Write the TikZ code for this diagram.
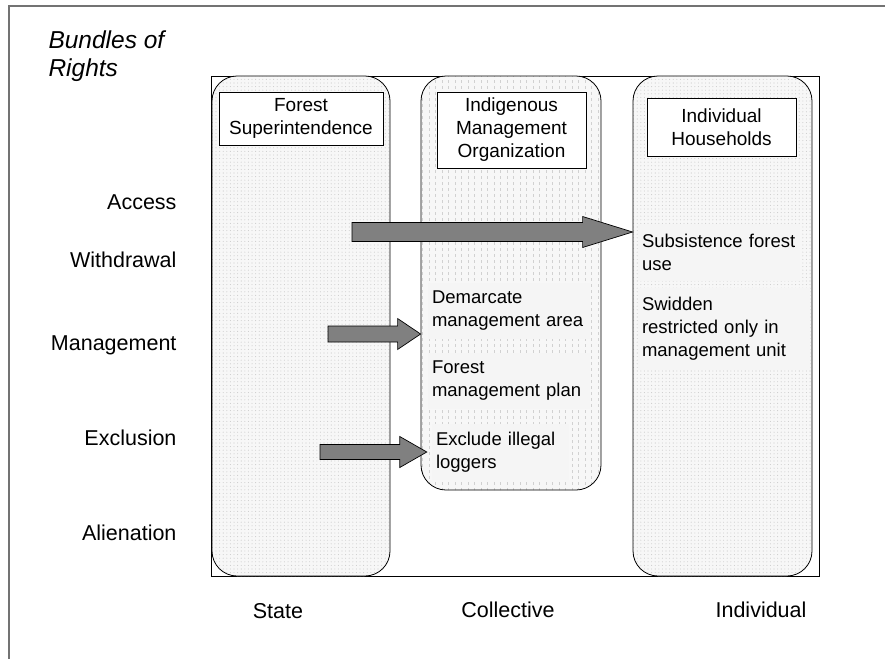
\documentclass[tikz,border=0pt]{standalone}
\usepackage{fontspec}
\setmainfont{Liberation Sans}
\usetikzlibrary{calc,patterns}
\newcommand{\hw}{15.5}
\newcommand{\blockarrow}[4]{%
  \filldraw[barrow] ($(#1)+(0,#4)$) -- ($(#2)+(-#3,#4)$) -- ($(#2)+(-#3,\hw)$) -- (#2)
    -- ($(#2)+(-#3,-\hw)$) -- ($(#2)+(-#3,-#4)$) -- ($(#1)+(0,-#4)$) -- cycle;}
\pgfdeclarepatternformonly{finedots}{\pgfqpoint{-1pt}{-1pt}}{\pgfqpoint{1pt}{1pt}}{\pgfqpoint{3.6pt}{3.6pt}}%
  {\pgfpathcircle{\pgfpointorigin}{0.55pt}\pgfusepath{fill}}
\pgfdeclarepatternformonly{vdashes}{\pgfqpoint{-1pt}{-1pt}}{\pgfqpoint{1pt}{4pt}}{\pgfqpoint{6.5pt}{6pt}}%
  {\pgfpathrectangle{\pgfqpoint{-0.4pt}{0pt}}{\pgfqpoint{0.8pt}{3.2pt}}\pgfusepath{fill}}

\begin{document}
\begin{tikzpicture}[x=1pt,y=-1pt,
  colbox/.style={draw,line width=0.8pt,rounded corners=25pt,inner sep=0pt,preaction={fill=black!3}},
  dotfill/.style={pattern=finedots,pattern color=black!20},
  vdashfill/.style={pattern=vdashes,pattern color=black!18},
  headbox/.style={draw,fill=white,line width=0.7pt,align=center,inner sep=0pt,font=\fontsize{19}{23}\selectfont},
  entry/.style={fill=black!4,align=left,inner xsep=4pt,inner ysep=0pt,font=\fontsize{18.5}{23}\selectfont},
  rightlabel/.style={anchor=east,font=\fontsize{21.5}{25}\selectfont},
  collabel/.style={font=\fontsize{21.5}{25}\selectfont},
  barrow/.style={fill=black!50,draw=black,line width=0.7pt}]
\useasboundingbox (0,0) rectangle (885,659);
\draw[black!55,line width=2pt] (885,5.5) -- (9,5.5) -- (9,659);
\draw[line width=0.8pt] (211,76) rectangle (819,576);

% columns
\node[colbox,dotfill,minimum width=178,minimum height=500] (state) at (301,326) {};
\node[colbox,vdashfill,minimum width=180,minimum height=414] (coll) at (511,283) {};
\node[colbox,dotfill,minimum width=179,minimum height=500] (indiv) at (722.5,326) {};

\node[headbox,minimum width=164,minimum height=53] (fs) at (301,118.5) {Forest\\Superintendence};
\node[headbox,minimum width=149,minimum height=76] (imo) at (511.5,130) {Indigenous\\Management\\Organization};
\node[headbox,minimum width=149,minimum height=58] (ih) at (721.5,127) {Individual\\Households};

% rights held
\node[entry,text width=154,minimum height=57] (subs) at (719,252.5) {Subsistence forest\\use};
\node[entry,text width=164,minimum height=82] (swid) at (724,329) {Swidden\\restricted only in\\management unit};
\node[entry,text width=154,minimum height=56] (dem) at (509,311) {Demarcate\\management area};
\node[entry,text width=154,minimum height=56] (fmp) at (509,381) {Forest\\management plan};
\node[entry,text width=129,minimum height=56] (excl) at (500.5,452) {Exclude illegal\\loggers};

% transfers
\coordinate (accTail) at (352,232);
\coordinate (accTip) at (indiv.west |- accTail);
\blockarrow{accTail}{accTip}{50}{9.5}
\coordinate (mgmtTail) at (328,334);
\coordinate (mgmtTip) at (coll.west |- mgmtTail);
\blockarrow{mgmtTail}{mgmtTip}{23}{8}
\coordinate (exclTail) at (320,452);
\coordinate (exclTip) at ([xshift=-5pt]excl.west);
\blockarrow{exclTail}{exclTip}{27}{7.5}

\node[anchor=west,align=left,font=\fontsize{24.5}{28}\selectfont\itshape] (bundles) at (45,56) {Bundles of\\Rights};
\foreach \lab/\y in {Access/202,Withdrawal/260,Management/345,Exclusion/438,Alienation/533}
  \node[rightlabel] (\lab) at (180,\y) {\lab};
\node[collabel] (stateLab) at (278,611) {State};
\node[collabel] (collLab) at (508,610) {Collective};
\node[collabel] (indivLab) at (761,610) {Individual};
\end{tikzpicture}
\end{document}
